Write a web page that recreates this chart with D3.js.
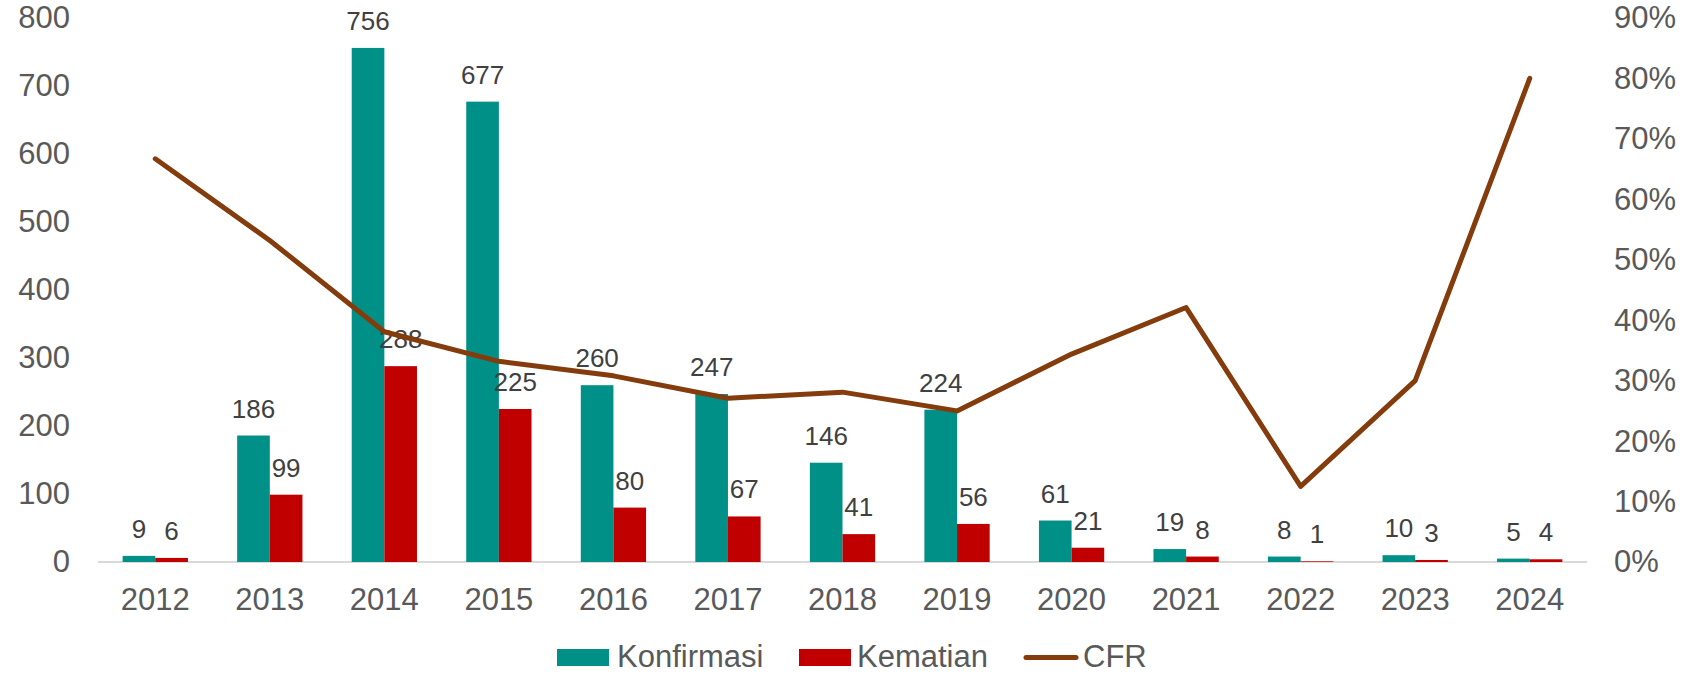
<!DOCTYPE html>
<html>
<head>
<meta charset="utf-8">
<script src="https://cdn.jsdelivr.net/npm/d3@7"></script>
<style>
  html, body { margin: 0; padding: 0; background: #fff; }
  svg { display: block; font-family: "Liberation Sans", Arial, sans-serif; }
</style>
</head>
<body>
<svg id="chart" width="1698" height="674"></svg>
<script>
// Yearly confirmed cases, deaths and case fatality rate
const years = ["2012","2013","2014","2015","2016","2017","2018","2019","2020","2021","2022","2023","2024"];
const konfirmasi = [9, 186, 756, 677, 260, 247, 146, 224, 61, 19, 8, 10, 5];
const kematian   = [6, 99, 288, 225, 80, 67, 41, 56, 21, 8, 1, 3, 4];
const cfr        = [66.7, 53.2, 38.1, 33.2, 30.8, 27.1, 28.1, 25.0, 34.4, 42.1, 12.5, 30.0, 80.0];
const leftTicks  = [0, 100, 200, 300, 400, 500, 600, 700, 800];
const rightTicks = [0, 10, 20, 30, 40, 50, 60, 70, 80, 90];
const seriesNames = ["Konfirmasi", "Kematian", "CFR"];

const colors = { Konfirmasi: "#009088", Kematian: "#C00000", CFR: "#843C0C" };

const svg = d3.select("#chart");
const plot = { left: 98, right: 1587, top: 18, bottom: 562 };

const x = d3.scaleBand().domain(years).range([plot.left, plot.right])
  .paddingInner(0.43).paddingOuter(0.215);
const xs = d3.scaleBand().domain(["Konfirmasi", "Kematian"]).range([0, x.bandwidth()]);
const yL = d3.scaleLinear().domain([0, 800]).range([plot.bottom, plot.top]);
const yR = d3.scaleLinear().domain([0, 90]).range([plot.bottom, plot.top]);

const rows = years.map((yr, i) => ({ year: yr, Konfirmasi: konfirmasi[i], Kematian: kematian[i], CFR: cfr[i] }));

// baseline
svg.append("line")
  .attr("x1", plot.left).attr("x2", plot.right)
  .attr("y1", yL(0)).attr("y2", yL(0))
  .attr("stroke", "#D9D9D9").attr("stroke-width", 2);

// left axis
const axisL = svg.append("g").attr("transform", `translate(70,0)`)
  .call(d3.axisLeft(yL).tickValues(leftTicks).tickSize(0).tickPadding(0));
axisL.select(".domain").remove();
axisL.selectAll("text").attr("font-size", 31).attr("fill", "#595959")
  .attr("font-family", "Liberation Sans, Arial, sans-serif");

// right axis
const axisR = svg.append("g").attr("transform", `translate(1614,0)`)
  .call(d3.axisRight(yR).tickValues(rightTicks).tickFormat(d => d + "%").tickSize(0).tickPadding(0));
axisR.select(".domain").remove();
axisR.selectAll("text").attr("font-size", 31).attr("fill", "#595959")
  .attr("font-family", "Liberation Sans, Arial, sans-serif");

// bottom axis
const axisB = svg.append("g").attr("transform", `translate(0,${plot.bottom})`)
  .call(d3.axisBottom(x).tickSize(0).tickPadding(0));
axisB.select(".domain").remove();
axisB.selectAll("text").attr("font-size", 31).attr("fill", "#595959")
  .attr("dy", null).attr("y", 48)
  .attr("font-family", "Liberation Sans, Arial, sans-serif");

// bars
const groups = svg.append("g").selectAll("g").data(rows).join("g")
  .attr("transform", d => `translate(${x(d.year)},0)`);
groups.selectAll("rect").data(d => ["Konfirmasi", "Kematian"].map(k => ({ key: k, value: d[k] })))
  .join("rect")
  .attr("x", d => xs(d.key))
  .attr("width", xs.bandwidth())
  .attr("y", d => yL(d.value))
  .attr("height", d => yL(0) - yL(d.value))
  .attr("fill", d => colors[d.key]);

// CFR line
const line = d3.line()
  .x(d => x(d.year) + x.bandwidth() / 2)
  .y(d => yR(d.CFR));
svg.append("path").datum(rows)
  .attr("d", line)
  .attr("fill", "none")
  .attr("stroke", colors.CFR)
  .attr("stroke-width", 5)
  .attr("stroke-linejoin", "round")
  .attr("stroke-linecap", "round");

// value labels
groups.selectAll("text.val").data(d => ["Konfirmasi", "Kematian"].map(k => ({ key: k, value: d[k] })))
  .join("text").attr("class", "val")
  .attr("x", d => xs(d.key) + xs.bandwidth() / 2)
  .attr("y", d => yL(d.value) - 18)
  .attr("text-anchor", "middle")
  .attr("font-size", 26)
  .attr("fill", "#404040")
  .text(d => d.value);

// legend
const legend = svg.append("g");
const legendItems = [
  { name: seriesNames[0], sx: 557, tx: 617, type: "rect" },
  { name: seriesNames[1], sx: 799, tx: 857, type: "rect" },
  { name: seriesNames[2], sx: 1023, tx: 1083, type: "line" }
];
legendItems.forEach(it => {
  if (it.type === "rect") {
    legend.append("rect").attr("x", it.sx).attr("y", 649).attr("width", 52).attr("height", 17)
      .attr("fill", colors[it.name]);
  } else {
    legend.append("line").attr("x1", it.sx + 3).attr("x2", it.sx + 53).attr("y1", 657.5).attr("y2", 657.5)
      .attr("stroke", colors[it.name]).attr("stroke-width", 5).attr("stroke-linecap", "round");
  }
  legend.append("text").attr("x", it.tx).attr("y", 667)
    .attr("font-size", 31).attr("fill", "#595959").text(it.name);
});
</script>
</body>
</html>
